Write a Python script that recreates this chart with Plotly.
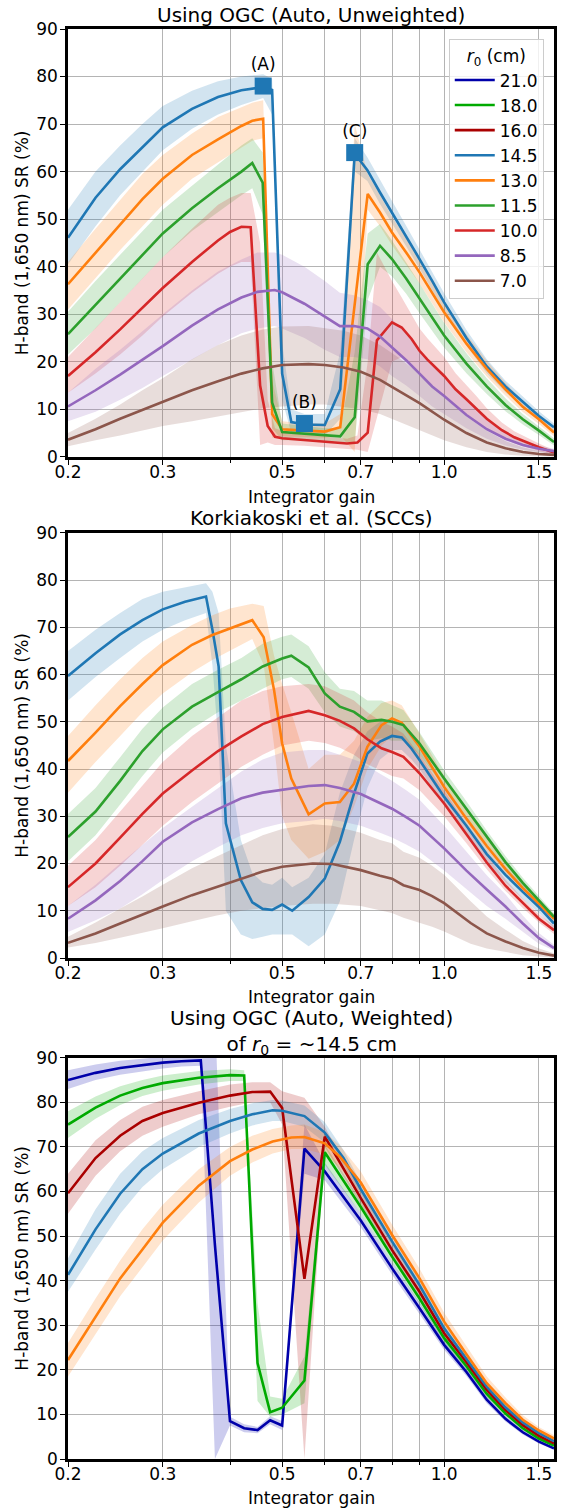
import math
import plotly.graph_objects as go

# ---------------- data ----------------
R0 = ["21.0", "18.0", "16.0", "14.5", "13.0", "11.5", "10.0", "8.5", "7.0"]
R0_COLORS = ["#0000aa", "#00aa00", "#aa0000", "#1f77b4", "#ff7f0e",
             "#2ca02c", "#d62728", "#9467bd", "#8c564b"]

PANEL_TITLES = ["Using OGC (Auto, Unweighted)",
                "Korkiakoski et al. (SCCs)",
                "Using OGC (Auto, Weighted)<br>of <i>r</i><sub>0</sub> = ~14.5 cm"]
X_LABEL = "Integrator gain"
Y_LABEL = "H-band (1,650 nm) SR (%)"
LEGEND_TITLE = "<i>r</i><sub>0</sub> (cm)"
X_TICKS = [0.2, 0.3, 0.5, 0.7, 1.0, 1.5]
X_TICK_TEXT = ["0.2", "0.3", "0.5", "0.7", "1.0", "1.5"]
X_MINOR = [0.4, 0.6, 0.8, 0.9]
X_RANGE = [0.2, 1.6]
Y_TICKS = [0, 10, 20, 30, 40, 50, 60, 70, 80, 90]
Y_RANGE = [0, 90]

# ---- Panel 1: OGC unweighted ----
P1_145_X = [0.2, 0.225, 0.25, 0.275, 0.3, 0.34, 0.38, 0.42, 0.461, 0.479, 0.5, 0.52, 0.55, 0.6, 0.641, 0.682, 0.72, 0.76, 0.8, 0.85, 0.9, 0.95, 1.0, 1.1, 1.2, 1.3, 1.4, 1.5, 1.6]
P1_145_Y = [46.1, 54.5, 60.5, 65.2, 69.3, 73.2, 75.7, 77.1, 77.8, 77.2, 17.5, 7.3, 6.8, 6.7, 14.2, 63.8, 60.3, 55.6, 51.4, 46.4, 41.6, 37.0, 32.5, 25.0, 19.0, 14.8, 11.5, 8.6, 6.2]
P1_145_LO = [40.5, 48.5, 55.0, 60.0, 64.5, 69.0, 72.0, 74.0, 75.5, 72.0, 12.0, 5.0, 5.0, 4.5, 8.0, 60.0, 58.0, 53.2, 49.2, 44.3, 39.6, 35.1, 30.7, 23.4, 17.6, 13.6, 10.4, 7.6, 5.4]
P1_145_HI = [52.0, 60.0, 65.5, 70.0, 73.8, 77.0, 79.0, 80.0, 80.5, 79.5, 24.0, 10.0, 9.0, 9.0, 22.0, 67.0, 63.0, 58.2, 53.8, 48.6, 43.7, 39.0, 34.4, 26.7, 20.5, 16.0, 12.6, 9.6, 7.0]

P1_130_X = [0.2, 0.225, 0.25, 0.275, 0.3, 0.34, 0.38, 0.42, 0.44, 0.461, 0.479, 0.5, 0.55, 0.6, 0.641, 0.682, 0.721, 0.76, 0.8, 0.85, 0.9, 0.95, 1.0, 1.1, 1.2, 1.3, 1.4, 1.5, 1.6]
P1_130_Y = [36.3, 43.0, 49.0, 54.2, 58.5, 63.5, 66.8, 69.6, 70.7, 71.1, 9.0, 5.8, 5.5, 5.3, 6.2, 32.0, 55.3, 51.4, 47.2, 43.0, 38.8, 34.5, 30.4, 23.8, 18.5, 14.2, 10.5, 7.9, 5.1]
P1_130_LO = [31.0, 37.5, 43.5, 48.5, 53.0, 58.5, 62.0, 65.0, 66.5, 67.0, 4.0, 4.3, 4.2, 4.0, 4.5, 1.0, 52.0, 48.5, 44.5, 40.5, 36.5, 32.3, 28.3, 22.0, 16.9, 12.9, 9.4, 6.9, 4.3]
P1_130_HI = [41.0, 48.0, 54.0, 59.5, 63.5, 68.0, 71.5, 73.5, 74.5, 75.0, 16.0, 7.5, 7.0, 7.0, 9.0, 70.0, 59.5, 55.0, 50.5, 46.0, 41.5, 37.0, 32.8, 25.8, 20.2, 15.6, 11.6, 8.9, 5.9]

P1_115_X = [0.2, 0.225, 0.25, 0.275, 0.3, 0.34, 0.38, 0.42, 0.44, 0.46, 0.479, 0.5, 0.55, 0.6, 0.641, 0.682, 0.721, 0.76, 0.8, 0.85, 0.9, 0.95, 1.0, 1.1, 1.2, 1.3, 1.4, 1.5, 1.6]
P1_115_Y = [25.8, 32.0, 37.5, 42.5, 47.0, 52.3, 56.5, 60.0, 61.8, 57.7, 11.4, 5.2, 4.9, 4.6, 4.3, 8.3, 40.5, 44.4, 41.6, 37.5, 33.2, 29.2, 25.5, 19.6, 14.8, 10.9, 7.9, 5.5, 3.1]
P1_115_LO = [21.5, 27.0, 32.5, 37.5, 42.0, 47.5, 51.5, 55.0, 56.5, 51.0, 6.0, 3.5, 3.5, 3.3, 3.0, 3.0, 33.0, 40.0, 38.0, 34.3, 30.2, 26.5, 23.0, 17.6, 13.2, 9.6, 6.8, 4.6, 2.4]
P1_115_HI = [30.5, 37.0, 42.5, 47.5, 52.0, 57.0, 61.5, 65.5, 67.0, 64.0, 20.0, 7.0, 6.5, 6.0, 6.0, 22.0, 47.0, 49.0, 45.5, 41.0, 36.5, 32.2, 28.2, 21.8, 16.5, 12.3, 9.0, 6.4, 3.9]

P1_100_X = [0.2, 0.225, 0.25, 0.275, 0.3, 0.34, 0.38, 0.4, 0.42, 0.437, 0.455, 0.47, 0.485, 0.5, 0.55, 0.6, 0.66, 0.69, 0.721, 0.75, 0.8, 0.834, 0.87, 0.9, 0.93, 1.0, 1.05, 1.1, 1.15, 1.2, 1.28, 1.35, 1.5, 1.6]
P1_100_Y = [17.0, 22.0, 26.8, 31.3, 35.5, 41.0, 45.5, 47.3, 48.4, 48.3, 15.0, 6.5, 4.2, 3.9, 3.5, 3.2, 2.8, 3.0, 5.1, 24.5, 28.3, 27.2, 24.8, 22.3, 20.5, 17.0, 14.2, 12.1, 10.0, 8.0, 5.6, 4.1, 2.0, 0.9]
P1_100_LO = [13.5, 17.5, 21.5, 25.5, 29.5, 34.5, 38.5, 40.0, 41.0, 41.0, 2.5, 3.0, 2.5, 2.5, 2.3, 2.0, 1.8, 1.5, 1.0, 8.0, 20.0, 21.0, 19.5, 17.5, 16.0, 13.0, 10.8, 9.0, 7.3, 5.8, 4.0, 2.8, 1.2, 0.4]
P1_100_HI = [21.0, 27.0, 32.5, 37.5, 42.0, 48.0, 53.0, 54.5, 55.5, 55.5, 45.0, 12.0, 6.0, 5.5, 4.6, 4.3, 3.8, 4.5, 20.0, 43.0, 37.0, 33.5, 30.0, 27.0, 25.0, 21.0, 17.6, 15.2, 12.7, 10.2, 7.2, 5.4, 2.8, 1.4]

P1_85_X = [0.2, 0.225, 0.25, 0.275, 0.3, 0.34, 0.38, 0.42, 0.45, 0.484, 0.5, 0.55, 0.6, 0.64, 0.68, 0.72, 0.76, 0.8, 0.85, 0.9, 0.95, 1.0, 1.1, 1.2, 1.3, 1.4, 1.5, 1.6]
P1_85_Y = [10.6, 14.0, 17.3, 20.4, 23.3, 27.6, 31.0, 33.5, 34.7, 35.1, 34.6, 32.2, 29.6, 27.5, 27.5, 27.0, 25.3, 23.0, 20.3, 17.5, 14.8, 12.8, 8.8, 5.8, 3.8, 2.5, 1.7, 1.2]
P1_85_LO = [7.5, 9.5, 12.0, 14.5, 17.0, 20.5, 23.5, 26.0, 27.0, 27.5, 27.0, 25.0, 22.5, 21.0, 21.0, 20.5, 19.0, 17.0, 15.0, 12.8, 10.6, 9.0, 6.0, 3.8, 2.4, 1.5, 1.0, 0.7]
P1_85_HI = [13.5, 18.5, 22.5, 26.5, 30.0, 35.0, 39.0, 41.5, 43.0, 43.0, 42.5, 40.0, 37.0, 34.5, 34.0, 33.0, 31.5, 29.0, 26.0, 22.5, 19.3, 16.6, 11.8, 7.9, 5.3, 3.5, 2.4, 1.7]

P1_70_X = [0.2, 0.225, 0.25, 0.275, 0.3, 0.34, 0.38, 0.42, 0.46, 0.5, 0.56, 0.6, 0.65, 0.7, 0.76, 0.82, 0.9, 1.0, 1.1, 1.2, 1.3, 1.4, 1.5, 1.6]
P1_70_Y = [3.6, 5.8, 8.0, 9.9, 11.6, 14.0, 15.9, 17.5, 18.6, 19.3, 19.5, 19.3, 18.8, 17.9, 16.2, 14.0, 11.3, 7.8, 5.0, 3.0, 1.8, 1.0, 0.6, 0.4]
P1_70_LO = [2.2, 3.5, 4.5, 5.5, 6.5, 7.5, 8.5, 9.5, 10.2, 10.6, 11.0, 11.0, 10.5, 10.0, 9.0, 7.5, 5.5, 3.5, 2.0, 1.0, 0.5, 0.2, 0.1, 0.05]
P1_70_HI = [5.0, 8.0, 11.0, 14.0, 16.5, 20.5, 23.5, 25.5, 26.8, 27.4, 27.5, 27.0, 26.5, 25.5, 23.5, 21.0, 17.5, 12.5, 8.5, 5.5, 3.3, 2.0, 1.2, 0.8]

MARK_X = [0.461, 0.55, 0.682]
MARK_Y = [78.0, 7.0, 64.0]
MARK_TEXT = ["(A)", "(B)", "(C)"]

# ---- Panel 2: Korkiakoski et al. ----
P2_145_X = [0.2, 0.225, 0.25, 0.275, 0.3, 0.33, 0.361, 0.371, 0.381, 0.393, 0.419, 0.44, 0.46, 0.479, 0.5, 0.522, 0.56, 0.6, 0.64, 0.68, 0.72, 0.76, 0.8, 0.834, 0.87, 0.9, 1.0, 1.1, 1.2, 1.3, 1.4, 1.5, 1.6]
P2_145_Y = [59.7, 64.5, 68.5, 71.5, 73.8, 75.4, 76.5, 69.5, 61.7, 28.5, 16.5, 11.8, 10.4, 10.2, 11.3, 10.0, 12.9, 16.8, 24.6, 34.8, 43.3, 45.8, 47.0, 46.7, 44.3, 41.9, 34.1, 28.0, 22.0, 17.6, 14.0, 10.8, 7.3]
P2_145_LO = [54.5, 59.5, 63.5, 67.0, 69.5, 71.5, 73.0, 62.0, 45.0, 10.0, 5.0, 4.0, 4.5, 5.0, 5.0, 5.0, 2.5, 5.0, 12.0, 25.0, 36.0, 42.0, 44.0, 44.0, 42.0, 40.0, 32.5, 26.4, 20.5, 16.0, 12.5, 9.5, 6.3]
P2_145_HI = [65.0, 69.5, 73.0, 76.0, 77.5, 78.5, 79.3, 77.5, 73.0, 45.0, 25.0, 18.0, 16.0, 15.5, 17.0, 15.0, 17.0, 22.0, 35.0, 43.0, 48.0, 50.0, 50.0, 49.5, 46.8, 44.0, 35.8, 29.6, 23.5, 19.2, 15.5, 12.0, 8.3]

P2_130_X = [0.2, 0.225, 0.25, 0.275, 0.3, 0.34, 0.37, 0.4, 0.44, 0.462, 0.483, 0.5, 0.52, 0.56, 0.6, 0.64, 0.68, 0.72, 0.765, 0.8, 0.834, 0.9, 1.0, 1.1, 1.2, 1.3, 1.4, 1.5, 1.6]
P2_130_Y = [41.7, 47.7, 53.3, 58.0, 62.0, 66.3, 68.3, 69.8, 71.5, 67.9, 56.7, 45.4, 38.0, 30.4, 32.7, 33.0, 36.9, 44.7, 49.3, 50.7, 49.8, 44.7, 36.2, 29.5, 23.7, 18.8, 14.8, 11.5, 8.3]
P2_130_LO = [35.0, 41.5, 47.0, 52.0, 56.0, 60.5, 63.0, 65.0, 67.5, 62.0, 45.0, 30.0, 25.0, 21.0, 22.5, 25.0, 32.0, 40.0, 45.0, 47.0, 46.5, 42.0, 34.0, 27.7, 22.2, 17.6, 13.7, 10.5, 7.5]
P2_130_HI = [47.0, 53.5, 59.0, 63.5, 67.0, 70.5, 72.5, 74.0, 75.0, 74.5, 64.0, 58.0, 52.0, 40.0, 43.0, 43.0, 46.0, 51.0, 54.0, 54.5, 53.5, 47.5, 38.5, 31.3, 25.5, 20.3, 16.0, 12.5, 9.2]

P2_115_X = [0.2, 0.225, 0.25, 0.275, 0.3, 0.34, 0.38, 0.42, 0.46, 0.5, 0.52, 0.56, 0.6, 0.64, 0.68, 0.72, 0.765, 0.8, 0.84, 0.9, 1.0, 1.1, 1.2, 1.3, 1.4, 1.5, 1.6]
P2_115_Y = [25.6, 31.0, 37.5, 43.8, 48.4, 53.2, 56.3, 59.0, 61.7, 63.4, 64.0, 61.5, 56.0, 53.2, 52.1, 50.1, 50.4, 50.0, 49.3, 45.4, 38.0, 31.6, 25.5, 20.3, 15.9, 12.2, 8.7]
P2_115_LO = [20.5, 26.0, 32.5, 38.5, 43.5, 48.5, 52.0, 54.5, 57.0, 59.0, 59.5, 57.0, 52.0, 49.0, 48.0, 46.0, 46.5, 46.0, 46.0, 43.0, 36.3, 30.0, 24.0, 19.0, 14.8, 11.3, 8.0]
P2_115_HI = [30.5, 36.0, 42.5, 48.5, 53.0, 58.0, 61.0, 63.5, 66.5, 68.0, 68.5, 66.0, 60.5, 57.0, 56.5, 54.5, 54.5, 53.5, 52.5, 47.8, 39.7, 33.2, 27.0, 21.6, 17.0, 13.1, 9.4]

P2_100_X = [0.2, 0.225, 0.25, 0.275, 0.3, 0.34, 0.38, 0.42, 0.46, 0.5, 0.56, 0.6, 0.64, 0.68, 0.72, 0.765, 0.8, 0.84, 0.9, 1.0, 1.1, 1.2, 1.3, 1.4, 1.5, 1.6]
P2_100_Y = [15.0, 20.0, 25.5, 30.5, 34.8, 39.7, 43.8, 46.9, 49.5, 51.0, 52.3, 51.4, 50.2, 48.6, 46.3, 44.4, 43.6, 42.6, 39.1, 32.7, 26.2, 20.2, 15.3, 11.6, 8.3, 5.9]
P2_100_LO = [11.0, 15.0, 19.5, 24.0, 28.0, 33.0, 37.0, 40.5, 43.0, 45.0, 46.0, 45.5, 44.5, 43.0, 41.0, 39.5, 38.5, 38.0, 35.5, 30.0, 24.3, 18.8, 14.2, 10.6, 7.5, 5.1]
P2_100_HI = [19.5, 25.0, 31.0, 36.5, 41.5, 47.0, 51.0, 54.5, 56.5, 57.5, 58.0, 57.5, 56.0, 54.5, 52.0, 50.0, 49.0, 47.5, 43.0, 35.5, 28.3, 21.8, 16.6, 12.6, 9.3, 6.8]

P2_85_X = [0.2, 0.225, 0.25, 0.275, 0.3, 0.34, 0.38, 0.42, 0.46, 0.5, 0.56, 0.6, 0.64, 0.7, 0.76, 0.8, 0.85, 0.9, 1.0, 1.1, 1.2, 1.3, 1.4, 1.5, 1.6]
P2_85_Y = [8.3, 12.2, 16.3, 20.5, 24.6, 28.7, 31.5, 33.8, 35.0, 35.6, 36.4, 36.6, 36.0, 34.7, 32.8, 31.6, 29.8, 28.0, 23.2, 18.5, 14.5, 10.9, 7.3, 4.2, 2.1]
P2_85_LO = [5.5, 8.0, 10.5, 13.5, 16.5, 20.5, 23.5, 26.0, 27.5, 28.5, 29.0, 29.5, 29.0, 28.0, 26.5, 25.5, 24.0, 22.5, 18.5, 14.5, 11.0, 8.3, 5.5, 3.0, 1.6]
P2_85_HI = [11.0, 15.5, 20.0, 24.0, 27.5, 32.0, 36.0, 39.5, 42.0, 43.5, 44.0, 44.0, 43.0, 41.5, 39.0, 37.5, 35.5, 33.5, 28.0, 22.5, 17.5, 13.5, 9.0, 5.3, 2.8]

P2_70_X = [0.2, 0.225, 0.25, 0.275, 0.3, 0.34, 0.378, 0.42, 0.46, 0.5, 0.57, 0.62, 0.7, 0.76, 0.8, 0.84, 0.9, 0.95, 1.0, 1.12, 1.2, 1.3, 1.4, 1.5, 1.6]
P2_70_Y = [3.2, 5.2, 7.3, 9.1, 10.9, 13.3, 15.1, 16.9, 18.3, 19.3, 20.0, 19.9, 18.6, 17.4, 16.8, 15.4, 14.4, 13.1, 11.6, 7.4, 5.2, 3.5, 2.1, 1.1, 0.5]
P2_70_LO = [2.2, 3.2, 4.3, 5.3, 6.3, 7.8, 9.0, 10.0, 10.6, 11.0, 11.5, 11.5, 11.0, 10.0, 9.5, 8.5, 7.5, 6.6, 5.6, 3.0, 2.0, 1.2, 0.6, 0.3, 0.1]
P2_70_HI = [4.5, 7.5, 10.5, 13.0, 15.5, 19.0, 21.5, 24.0, 26.0, 27.3, 28.3, 28.0, 26.5, 25.0, 24.3, 22.5, 21.2, 19.5, 17.6, 12.0, 8.8, 6.0, 3.6, 2.0, 1.0]

# ---- Panel 3: OGC weighted ----
P3_210_X = [0.2, 0.225, 0.25, 0.275, 0.3, 0.325, 0.353, 0.375, 0.4, 0.425, 0.45, 0.475, 0.5, 0.55, 0.6, 0.7, 0.8, 0.9, 1.0, 1.1, 1.2, 1.3, 1.4, 1.5, 1.6]
P3_210_Y = [85.0, 86.6, 87.7, 88.4, 88.9, 89.2, 89.4, 48.0, 8.5, 6.9, 6.5, 8.7, 7.5, 69.6, 64.5, 53.5, 42.8, 33.8, 25.6, 19.5, 13.3, 9.0, 6.0, 3.9, 2.4]
P3_210_LO = [83.0, 85.0, 86.2, 87.0, 87.6, 88.0, 88.2, 0.0, 7.5, 6.0, 5.8, 7.8, 6.5, 64.0, 62.5, 52.0, 41.4, 32.5, 24.5, 18.6, 12.5, 8.4, 5.5, 3.5, 2.1]
P3_210_HI = [87.2, 88.5, 89.3, 89.8, 90.2, 90.4, 90.6, 100.0, 9.5, 7.8, 7.2, 9.6, 8.5, 75.0, 66.5, 55.0, 44.2, 35.1, 26.7, 20.4, 14.1, 9.6, 6.5, 4.3, 2.7]

P3_180_X = [0.2, 0.225, 0.25, 0.275, 0.3, 0.35, 0.4, 0.425, 0.45, 0.475, 0.5, 0.55, 0.6, 0.7, 0.8, 0.9, 1.0, 1.1, 1.2, 1.3, 1.4, 1.5, 1.6]
P3_180_Y = [75.0, 78.8, 81.5, 83.2, 84.3, 85.5, 86.1, 86.0, 21.5, 10.5, 11.5, 17.6, 68.8, 56.5, 45.4, 36.0, 27.1, 20.8, 14.6, 10.2, 6.9, 4.6, 3.0]
P3_180_LO = [72.0, 76.3, 79.4, 81.4, 82.6, 84.0, 84.8, 84.8, 13.0, 9.5, 10.0, 12.5, 66.0, 55.0, 44.1, 34.8, 26.0, 19.8, 13.8, 9.5, 6.4, 4.2, 2.7]
P3_180_HI = [78.0, 81.3, 83.6, 85.0, 86.0, 87.0, 87.4, 87.2, 35.0, 14.0, 13.5, 23.0, 70.5, 58.0, 46.7, 37.2, 28.2, 21.8, 15.4, 10.9, 7.4, 5.0, 3.3]

P3_160_X = [0.2, 0.225, 0.25, 0.275, 0.3, 0.35, 0.4, 0.44, 0.475, 0.5, 0.55, 0.6, 0.7, 0.8, 0.9, 1.0, 1.1, 1.2, 1.3, 1.4, 1.5, 1.6]
P3_160_Y = [59.6, 67.5, 72.5, 75.8, 77.6, 79.9, 81.5, 82.3, 82.4, 78.7, 40.4, 72.3, 58.5, 46.9, 37.5, 28.2, 21.7, 15.5, 11.0, 7.6, 5.2, 3.5]
P3_160_LO = [55.0, 63.5, 69.0, 72.5, 74.5, 77.3, 79.0, 80.0, 80.0, 75.0, 0.0, 70.0, 57.0, 45.5, 36.3, 27.1, 20.7, 14.7, 10.4, 7.1, 4.8, 3.2]
P3_160_HI = [64.0, 71.5, 76.0, 79.0, 80.5, 82.5, 84.0, 84.5, 84.5, 82.5, 81.0, 74.5, 60.0, 48.3, 38.7, 29.3, 22.7, 16.3, 11.6, 8.1, 5.6, 3.8]

P3_145_X = [0.2, 0.225, 0.25, 0.275, 0.3, 0.35, 0.4, 0.44, 0.48, 0.5, 0.55, 0.6, 0.65, 0.7, 0.8, 0.9, 1.0, 1.1, 1.2, 1.3, 1.4, 1.5, 1.6]
P3_145_Y = [41.3, 51.5, 59.5, 65.0, 68.5, 73.0, 75.8, 77.3, 78.2, 78.1, 76.9, 73.2, 67.5, 60.5, 48.8, 39.0, 29.3, 22.5, 16.2, 11.6, 8.2, 5.8, 4.0]
P3_145_LO = [37.5, 47.0, 55.0, 61.0, 65.0, 70.0, 73.0, 74.8, 75.8, 75.8, 74.5, 71.0, 65.8, 59.0, 47.4, 37.8, 28.2, 21.5, 15.4, 11.0, 7.7, 5.4, 3.6]
P3_145_HI = [45.0, 56.0, 64.0, 69.0, 72.0, 76.0, 78.5, 79.8, 80.5, 80.4, 79.3, 75.5, 69.3, 62.0, 50.2, 40.2, 30.4, 23.5, 17.0, 12.2, 8.7, 6.2, 4.4]

P3_130_X = [0.2, 0.225, 0.25, 0.275, 0.3, 0.35, 0.4, 0.44, 0.48, 0.52, 0.55, 0.6, 0.64, 0.7, 0.8, 0.9, 1.0, 1.1, 1.2, 1.3, 1.4, 1.5, 1.6]
P3_130_Y = [22.2, 32.0, 40.5, 47.0, 53.0, 61.3, 66.8, 69.4, 71.2, 72.1, 72.2, 70.8, 67.8, 62.0, 50.3, 40.5, 30.8, 23.5, 17.0, 12.5, 8.8, 6.4, 4.6]
P3_130_LO = [18.5, 28.0, 36.5, 43.0, 49.0, 57.5, 63.5, 66.5, 68.5, 69.5, 69.5, 68.3, 65.3, 59.5, 48.0, 38.3, 28.8, 21.7, 15.5, 11.2, 7.8, 5.6, 3.9]
P3_130_HI = [26.0, 36.0, 44.5, 51.5, 57.0, 65.0, 70.0, 72.5, 74.0, 74.8, 75.0, 73.3, 70.3, 64.5, 52.6, 42.7, 32.8, 25.3, 18.5, 13.8, 9.8, 7.2, 5.3]

# ---------------- layout constants (px) ----------------
W, H = 569, 1510
ML, MR, MT, MB = 68, 12, 29, 51
PANEL_PX = [(29.0, 456.8), (532.8, 958.0), (1057.7, 1459.0)]   # (top, bottom)
TITLE_PX = [15.0, 518.3, 1031.7]
XLABEL_PX = [496.7, 996.7, 1498.3]
YLABEL_XPX = 22.0
LEGEND_RIGHT_PX, LEGEND_TOP_PX = 546.7, 39.3
FONT = "DejaVu Sans"

PH = H - MT - MB
PW = W - ML - MR


def py(ypx):
    return (H - MB - ypx) / PH


def px(xpx):
    return (xpx - ML) / PW


def rgba(hexcol, a):
    return "rgba(%d,%d,%d,%.2f)" % (int(hexcol[1:3], 16), int(hexcol[3:5], 16), int(hexcol[5:7], 16), a)


PANELS = [
    [("14.5", P1_145_X, P1_145_Y, P1_145_LO, P1_145_HI),
     ("13.0", P1_130_X, P1_130_Y, P1_130_LO, P1_130_HI),
     ("11.5", P1_115_X, P1_115_Y, P1_115_LO, P1_115_HI),
     ("10.0", P1_100_X, P1_100_Y, P1_100_LO, P1_100_HI),
     ("8.5", P1_85_X, P1_85_Y, P1_85_LO, P1_85_HI),
     ("7.0", P1_70_X, P1_70_Y, P1_70_LO, P1_70_HI)],
    [("14.5", P2_145_X, P2_145_Y, P2_145_LO, P2_145_HI),
     ("13.0", P2_130_X, P2_130_Y, P2_130_LO, P2_130_HI),
     ("11.5", P2_115_X, P2_115_Y, P2_115_LO, P2_115_HI),
     ("10.0", P2_100_X, P2_100_Y, P2_100_LO, P2_100_HI),
     ("8.5", P2_85_X, P2_85_Y, P2_85_LO, P2_85_HI),
     ("7.0", P2_70_X, P2_70_Y, P2_70_LO, P2_70_HI)],
    [("21.0", P3_210_X, P3_210_Y, P3_210_LO, P3_210_HI),
     ("18.0", P3_180_X, P3_180_Y, P3_180_LO, P3_180_HI),
     ("16.0", P3_160_X, P3_160_Y, P3_160_LO, P3_160_HI),
     ("14.5", P3_145_X, P3_145_Y, P3_145_LO, P3_145_HI),
     ("13.0", P3_130_X, P3_130_Y, P3_130_LO, P3_130_HI)],
]
LEGEND_PANEL = {"21.0": 2, "18.0": 2, "16.0": 2, "14.5": 0, "13.0": 0,
                "11.5": 0, "10.0": 0, "8.5": 0, "7.0": 0}

fig = go.Figure()
for pi, curves in enumerate(PANELS):
    xa = "x" if pi == 0 else "x%d" % (pi + 1)
    ya = "y" if pi == 0 else "y%d" % (pi + 1)
    # shaded spread bands first
    for name, xs, ys, lo, hi in curves:
        col = R0_COLORS[R0.index(name)]
        fig.add_trace(go.Scatter(x=xs, y=hi, mode="lines", line=dict(width=0, color=col),
                                 xaxis=xa, yaxis=ya, showlegend=False, hoverinfo="skip"))
        fig.add_trace(go.Scatter(x=xs, y=lo, mode="lines", line=dict(width=0, color=col),
                                 fill="tonexty", fillcolor=rgba(col, 0.2),
                                 xaxis=xa, yaxis=ya, showlegend=False, hoverinfo="skip"))
    # curves
    for name, xs, ys, lo, hi in curves:
        idx = R0.index(name)
        col = R0_COLORS[idx]
        fig.add_trace(go.Scatter(x=xs, y=ys, mode="lines", name=name,
                                 line=dict(width=2.6, color=col),
                                 xaxis=xa, yaxis=ya,
                                 showlegend=(LEGEND_PANEL[name] == pi),
                                 legendrank=idx + 1))
    if pi == 0:
        fig.add_trace(go.Scatter(x=MARK_X, y=MARK_Y, mode="markers+text", text=MARK_TEXT,
                                 textposition="top center",
                                 textfont=dict(family=FONT, size=17, color="black"),
                                 marker=dict(symbol="square", size=17, color=R0_COLORS[3]),
                                 xaxis=xa, yaxis=ya, showlegend=False, cliponaxis=False))

axis_common = dict(showline=True, mirror=True, linecolor="black", linewidth=2.5,
                   ticks="outside", ticklen=5, tickwidth=1.2, tickcolor="black",
                   showgrid=True, gridcolor="#b4b4b4", gridwidth=1, zeroline=False,
                   tickfont=dict(family=FONT, size=17, color="black"))

layout = dict(width=W, height=H, margin=dict(l=ML, r=MR, t=MT, b=MB),
              paper_bgcolor="white", plot_bgcolor="white",
              font=dict(family=FONT, size=17, color="black"),
              legend=dict(x=px(LEGEND_RIGHT_PX), xanchor="right", y=py(LEGEND_TOP_PX), yanchor="top",
                          traceorder="normal",
                          bgcolor="rgba(255,255,255,0.8)", bordercolor="#cccccc", borderwidth=1,
                          font=dict(family=FONT, size=17), itemwidth=40,
                          title=dict(text=LEGEND_TITLE, side="top center", font=dict(family=FONT, size=17))),
              annotations=[])
for pi in range(3):
    sfx = "" if pi == 0 else str(pi + 1)
    top, bot = PANEL_PX[pi]
    layout["xaxis" + sfx] = dict(axis_common, type="log",
                                 range=[math.log10(X_RANGE[0]), math.log10(X_RANGE[1])],
                                 tickmode="array", tickvals=X_TICKS, ticktext=X_TICK_TEXT,
                                 ticklabelstandoff=-7,
                                 minor=dict(tickmode="array", tickvals=X_MINOR, ticks="outside", ticklen=3,
                                            tickcolor="black", showgrid=True, gridcolor="#b4b4b4", gridwidth=1),
                                 domain=[0, 1], anchor="y" + sfx)
    layout["yaxis" + sfx] = dict(axis_common, range=Y_RANGE, tickmode="array", tickvals=Y_TICKS,
                                 ticklabelstandoff=-1,
                                 domain=[py(bot), py(top)], anchor="x" + sfx)
    layout["annotations"].append(dict(text=PANEL_TITLES[pi], x=0.5, y=py(TITLE_PX[pi]), xref="paper", yref="paper",
                                      xanchor="center", yanchor="middle", showarrow=False,
                                      font=dict(family=FONT, size=20, color="black")))
    layout["annotations"].append(dict(text=X_LABEL, x=0.5, y=py(XLABEL_PX[pi]), xref="paper", yref="paper",
                                      xanchor="center", yanchor="middle", showarrow=False,
                                      font=dict(family=FONT, size=17, color="black")))
    layout["annotations"].append(dict(text=Y_LABEL, x=px(YLABEL_XPX), y=py((top + bot) / 2), xref="paper",
                                      yref="paper", xanchor="center", yanchor="middle", textangle=-90,
                                      showarrow=False, font=dict(family=FONT, size=17, color="black")))

fig.update_layout(**layout)
fig.write_html("out.html", config={"displayModeBar": False},
               post_script="document.body.style.margin='0';document.body.style.overflow='hidden';")
